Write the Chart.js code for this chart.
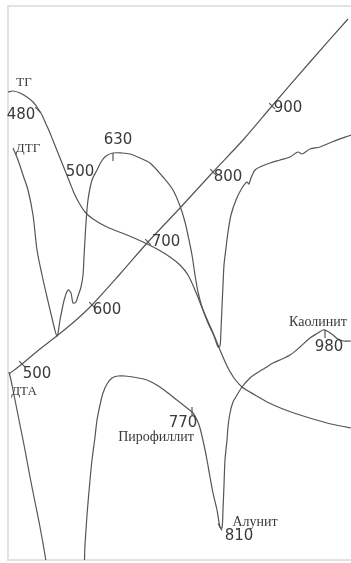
<!DOCTYPE html>
<html>
<head>
<meta charset="utf-8">
<script src="https://cdn.jsdelivr.net/npm/chart.js@4/dist/chart.umd.min.js"></script>
<style>
  html, body { margin: 0; padding: 0; background: #fff; }
  #wrap { width: 351px; height: 563px; }
</style>
</head>
<body>
<div id="wrap"><canvas id="chart"></canvas></div>
<script>
// recorder chart units: time along x, pen deflection along y
const tempTime = [0.5, 7, 16, 25, 33.5, 42, 56, 70, 86, 102.5, 117.5, 132, 151, 170]
const tempVal = [37.2, 39.2, 42.2, 45, 47.8, 51, 57.2, 63.6, 70.4, 77.6, 84, 90.8, 99.6, 108.2]

const tgTime = [0, 2.5, 6, 9.5, 12.5, 14.5, 17, 19, 21, 23, 25, 27, 29, 31, 33, 35, 38.5, 42.5, 49.5, 59.5,
  67.5, 74.5, 81, 86, 90, 93.5, 97.5, 101, 104, 106, 109.5, 113, 117, 123.5, 129.5, 137.5, 146, 159.5, 171.5]
const tgVal = [93.6, 93.8, 93.4, 92.6, 91.6, 90.6, 89, 87.2, 85.4, 83.4, 81.4, 79.4, 77.4, 75.4, 73.4, 71.8, 69.6, 68.2, 66.6, 65,
  63.6, 62.2, 60.6, 59, 57, 54, 50, 46.8, 44, 42, 38.8, 36.4, 34.6, 33, 31.6, 30.2, 29, 27.4, 26.4]

const dtgTime = [2.5, 5, 7.5, 10, 12.5, 14.5, 17, 19.5, 22, 24.5, 26, 27.5, 28.5, 30, 31.5, 32.5, 34, 35, 36.5, 37.5,
  38, 39, 40, 42, 44.5, 46.5, 49, 52.5, 57, 61, 66, 71, 77.5, 82.5, 86, 88.5, 90.5, 92, 93.5, 95,
  97, 100, 103, 105, 106, 106.5, 107, 107.5, 108, 109, 110, 111.5, 114, 117, 119.5, 120.5, 121.5, 123.5, 127, 131,
  136, 141, 145, 147, 151, 156, 162, 171.5]
const dtgVal = [82.4, 80, 77, 74, 69, 62, 57, 52.6, 48.4, 44.8, 48, 51, 52.6, 54, 53.4, 51.4, 51.6, 52.8, 54.6, 57,
  60.6, 67.4, 72, 76, 78, 79.6, 80.8, 81.4, 81.4, 81.2, 80.4, 79.4, 76.6, 74, 70.8, 67.6, 64, 61, 57, 53.6,
  50.6, 47.4, 44.8, 42.6, 42.8, 46, 50.6, 55, 59, 62.4, 65.6, 69, 72, 74.4, 75.6, 75.2, 76.4, 78, 78.8, 79.4,
  80, 80.6, 81.6, 81.2, 82.2, 82.6, 83.6, 85]

const dtaTime = [0.5, 1.5, 2.5, 4, 6, 8.5, 11, 13.5, 16, 18.5, 20, 28, 37.5, 38.5, 39.5, 41, 42, 43.5, 44.5, 46,
  47.5, 49.5, 52, 55, 58.5, 62.5, 69.5, 76, 82.5, 89.5, 92.5, 94.5, 96, 98, 99.5, 101, 102.5, 104.5, 106, 107,
  107.5, 108, 108.5, 109.5, 110, 111, 112.5, 114.5, 117, 121, 124.5, 128.5, 132.5, 137, 141, 146, 151, 155, 157.5, 159.5,
  162.5, 165, 167.5, 171.5]
const dtaVal = [37.6, 36, 34, 31, 27, 22, 16.6, 11.6, 6.6, 1, -3, -16, -3, 3, 9, 16, 20, 24.6, 28, 31,
  33.4, 35.2, 36.4, 36.8, 36.8, 36.6, 36, 34.6, 32.6, 30.4, 29.4, 28, 26.4, 23, 20, 16.6, 13.4, 10, 6.6, 6.4,
  10, 15, 20, 24, 26.6, 29.4, 31.6, 33, 34.6, 36.4, 37.4, 38.4, 39.4, 40.2, 41, 42.6, 44.4, 45.4, 46, 45.8,
  45, 44.2, 43.8, 43.8]

// tick marks on the curves (angle in degrees)
const tickTime = [7, 42, 70, 102.5, 132, 15, 52.5, 92, 106, 158.5]
const tickVal = [39.2, 51, 63.6, 77.6, 90.8, 90, 80.6, 29.8, 6.6, 45.2]
const tickAngle = [45, 45, 45, 45, 45, 45, 90, 90, 60, 90]

// text on the chart
const labelText = ["ТГ", "480", "ДТГ", "500", "630", "600", "700", "800", "900", "500", "ДТА",
  "770", "Пирофиллит", "Алунит", "810", "Каолинит", "980"]
const labelTime = [8, 6.5, 10, 36, 55, 49.5, 79, 110, 140, 14.5, 8, 87.5, 74, 123.5, 115.5, 155, 160.5]
const labelVal = [95.4, 89, 82.2, 77.6, 84, 50, 63.6, 76.6, 90.4, 37.2, 33.6, 27.4, 24.6, 7.6, 4.8, 47.6, 42.6]
const curveNames = ["ТГ", "ДТГ", "ДТА"]

const INK = "#555"
const NUM_FONT = "15px 'DejaVu Sans', sans-serif"
const NAME_FONT = "13px 'Liberation Serif', serif"
const WORD_FONT = "14px 'Liberation Serif', serif"

const zip = (xs, ys) => xs.map((x, i) => ({ x, y: ys[i] }))

const curve = (data) => ({
  data,
  showLine: true,
  borderColor: INK,
  borderWidth: 1.2,
  pointRadius: 0,
  tension: 0.3,
  fill: false
})

const framePlugin = {
  id: "frame",
  beforeDraw(chart) {
    const { ctx, chartArea: a } = chart
    ctx.save()
    ctx.strokeStyle = "#e2e2e2"
    ctx.lineWidth = 2
    ctx.beginPath()
    ctx.moveTo(a.right, a.top)
    ctx.lineTo(a.left, a.top)
    ctx.lineTo(a.left, a.bottom)
    ctx.lineTo(a.right, a.bottom)
    ctx.stroke()
    ctx.restore()
  }
}

const labelPlugin = {
  id: "labels",
  afterDatasetsDraw(chart) {
    const { ctx, scales } = chart
    ctx.save()
    ctx.fillStyle = "#3a3a3a"
    ctx.textAlign = "center"
    ctx.textBaseline = "middle"
    labelText.forEach((t, i) => {
      if (/^\d+$/.test(t)) ctx.font = NUM_FONT
      else ctx.font = curveNames.includes(t) ? NAME_FONT : WORD_FONT
      ctx.fillText(t, scales.x.getPixelForValue(labelTime[i]), scales.y.getPixelForValue(labelVal[i]))
    })
    ctx.restore()
  }
}

new Chart(document.getElementById("chart"), {
  type: "scatter",
  data: {
    datasets: [
      curve(zip(tempTime, tempVal)),
      curve(zip(tgTime, tgVal)),
      curve(zip(dtgTime, dtgVal)),
      curve(zip(dtaTime, dtaVal)),
      {
        data: zip(tickTime, tickVal),
        pointStyle: "line",
        pointRadius: 4,
        pointRotation: tickAngle,
        borderColor: INK,
        borderWidth: 1.2,
        showLine: false
      }
    ]
  },
  options: {
    responsive: true,
    maintainAspectRatio: false,
    animation: false,
    layout: { autoPadding: false, padding: { left: 8, top: 6, right: 0, bottom: 3 } },
    plugins: { legend: { display: false }, tooltip: { enabled: false } },
    scales: {
      x: { type: "linear", min: 0, max: 171.5, display: false },
      y: { type: "linear", min: 0, max: 110.8, display: false }
    }
  },
  plugins: [framePlugin, labelPlugin]
})
</script>
</body>
</html>
